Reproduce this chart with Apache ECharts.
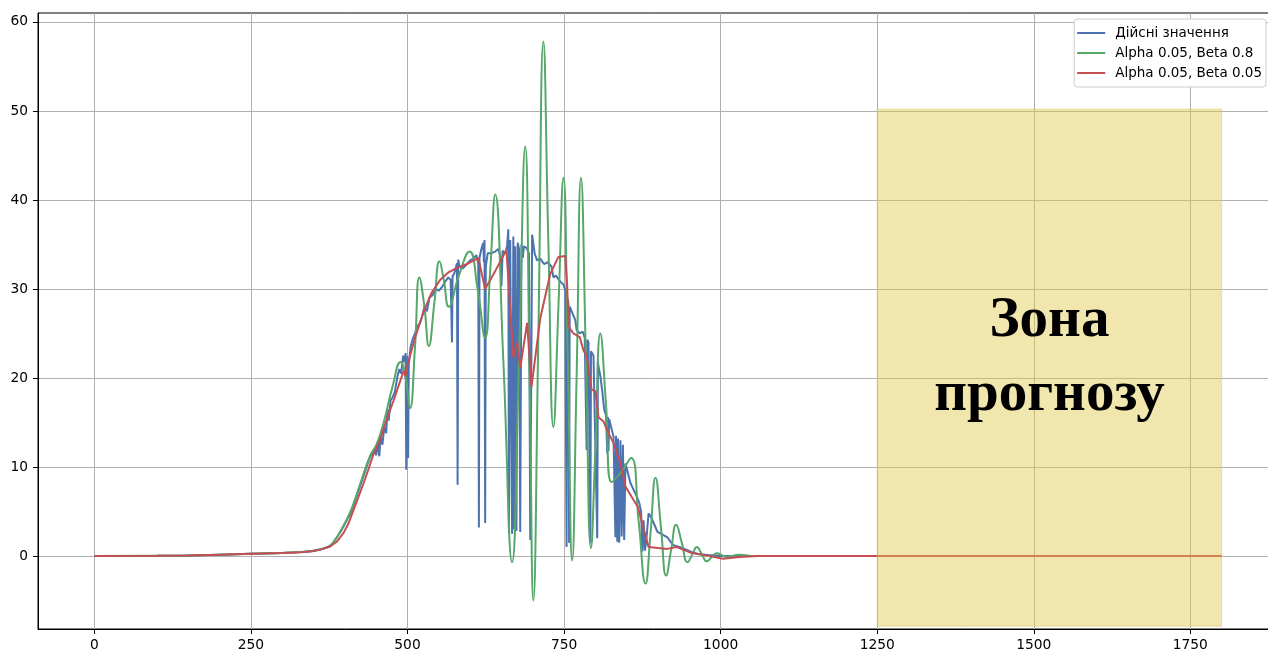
<!DOCTYPE html>
<html>
<head>
<meta charset="utf-8">
<script src="https://cdn.jsdelivr.net/npm/echarts@6/dist/echarts.min.js"></script>
<style>
html,body{margin:0;padding:0;background:#fff;}
#chart{width:1268px;height:651px;}
</style>
</head>
<body>
<div id="chart"></div>
<script>
// ---- data ----
const seriesNames = ['Дійсні значення', 'Alpha 0.05, Beta 0.8', 'Alpha 0.05, Beta 0.05'];

const actualX = [0,100,150,200,250,300,330,345,360,377,393,409,424,440,448,450,452,455,457,460,463,466,468,470,473,476,480,484,487,490,493,495,497,498,499,501,502,505,508,512,515,520,523,527,531,535,540,545,550,555,560,565,569,571,572,575,578,579,580,581,583,588,595,600,605,610,613,614,615,618,621,622,623,624,625,628,633,640,645,648,650,652,656,659,661,662,664,667,669,670,672,674,676,678,680,682,684,686,690,694,696,699,703,707,712,718,724,730,733,737,740,744,749,752,754,755,757,758,759,762,765,768,770,775,780,783,786,787,789,792,793,797,800,803,804,805,808,811,814,817,819,820,821,822,824,829,832,833,835,836,838,840,842,844,846,848,851,856,860,866,870,873,875,877,879,881,885,890,895,899,905,910,915,920,925,935,945,955,965,980,1000,1800];
const actualY = [0,0.02,0.05,0.15,0.25,0.35,0.45,0.5,0.7,1.1,2.7,4.8,7.8,11.1,12,11.3,12.8,11.2,13.5,12.5,14.5,13.8,16.5,15.2,17.5,17.8,18.5,20.2,21,20.5,22.5,21.8,22.8,9.7,22.5,11,21.5,23.5,24.3,25,25.7,26.2,26.8,28,27.5,29,29.3,30,29.8,30.2,30.8,31.3,31,24,31.4,31.8,32,32.9,8,33.3,32.5,32.3,32.8,33.2,33.4,33.8,32.8,3.2,33.5,34.5,35.2,33,35.5,3.7,32.5,34,34,34.2,34.5,33.8,30.3,34.3,34,34.8,36.7,2.6,35.5,2.5,35.9,3,34.8,2.8,35.2,34.5,2.7,35,33.5,34.8,34.6,34,1.8,36.1,34,33.2,33.4,32.8,33,32.5,31.3,31.5,31.5,30.8,30.5,29.9,1.0,29,28.4,1.5,28,27.5,27,26.5,25.4,25,25.2,24.5,11.9,24.3,24,1.5,23,22.5,22.3,2,21.8,21.3,20.2,18.5,16.5,15.8,11.5,15.6,11.8,15.4,15.2,13.4,2.1,13.5,1.6,13.2,1.5,13,2.2,12.5,1.8,10.4,9.6,8.2,7.6,6.7,6,5,0.5,4,0.6,1.5,4.8,4.2,3.4,2.7,2.5,2.3,2.1,1.6,1.2,1.0,0.7,0.4,0.2,0.1,0,0];

const fastX = [0,100,150,200,250,300,330,345,360,377,393,409,424,440,451,462,476,489,497,504,512,519,527,534,543,551,558,566,582,599,612,624,632,640,653,667,678,688,695,701,709,717,725,733,741,749,756,763,770,777,785,793,800,808,817,826,842,857,869,880,888,896,905,913,921,929,938,947,955,962,970,978,986,994,1010,1030,1050,1800];
const fastY = [0,0.02,0.05,0.15,0.25,0.35,0.45,0.55,0.75,1.2,2.8,5,8,11.2,12.6,15,19,21.8,20,16.6,23.5,31.3,28,23.6,28.5,33.1,31,28,31.5,34.2,30,24.5,32,40.6,22,-0.7,22,46,20,-5,25,57.8,35,14.5,28,42.5,22,-0.5,20,42.5,22,0.9,12,25,17,8.3,9.5,11,4,-3.1,2.5,8.8,3,-2.2,0.7,3.5,1.5,-0.7,0.2,1.0,0.2,-0.6,-0.1,0.3,-0.1,0.15,0,0];

const slowX = [0,100,150,200,250,300,330,350,365,377,387,398,406,414,422,430,438,445,456,466,478,489,494,497,500,512,525,538,552,566,580,595,613,624,640,658,669,675,680,691,698,712,728,741,752,755,757,765,775,781,786,794,800,805,813,821,829,840,848,861,868,876,885,900,915,930,951,975,1004,1030,1060,1800];
const slowY = [0,0.02,0.05,0.15,0.25,0.35,0.42,0.55,0.8,1.1,1.6,2.6,3.7,5.2,6.7,8.2,9.8,11.3,13,15.2,17.5,19.8,20.8,20.2,21.5,24.5,27.3,29.5,31,31.9,32.4,32.8,33.5,30,32,34.4,22.3,24,21.1,26.2,19,26.7,31.7,33.6,33.7,30.3,25.8,25,24.6,23.1,22.5,18.7,18.5,15.6,15.1,13.8,12.7,10.4,7.8,6.3,5.5,3.3,1.0,0.9,0.8,1.0,0.4,0.1,-0.3,-0.1,0,0];

const xTicks = [0, 250, 500, 750, 1000, 1250, 1500, 1750];
const yTicks = [0, 10, 20, 30, 40, 50, 60];

const zoneX = [1250, 1800];
const zoneY = [-7.9, 50.2];
const zoneText = ['Зона', 'прогнозу'];

// ---- chart ----
const zip = (xs, ys) => xs.map((x, i) => [x, ys[i]]);
const colors = ['#4C72B0', '#55A868', '#C44E52'];
const tickFont = { color: '#000', fontSize: 13.8, fontFamily: 'DejaVu Sans', formatter: v => String(v) };

const chart = echarts.init(document.getElementById('chart'), null, { renderer: 'canvas' });

const option = {
  animation: false,
  backgroundColor: '#ffffff',
  grid: {
    left: 38, top: 13, width: 1240, height: 616,
    outerBoundsMode: 'none', containLabel: false,
    show: true, borderColor: '#000', borderWidth: 1, backgroundColor: 'transparent'
  },
  legend: {
    data: seriesNames,
    orient: 'vertical',
    right: 2, top: 19,
    padding: [7, 4, 7, 3],
    itemGap: 6,
    itemWidth: 28, itemHeight: 2,
    icon: 'rect',
    backgroundColor: '#ffffff',
    borderColor: '#cccccc', borderWidth: 1, borderRadius: 3,
    textStyle: { color: '#000', fontSize: 13.5, fontFamily: 'DejaVu Sans', lineHeight: 14, padding: [0, 0, 0, 5] }
  },
  xAxis: {
    type: 'value', min: -90, max: 1890,
    axisLine: { show: true, onZero: false, lineStyle: { color: '#000', width: 1 } },
    axisTick: { show: true, length: 5, lineStyle: { color: '#000' }, customValues: xTicks },
    axisLabel: Object.assign({ customValues: xTicks, margin: 9 }, tickFont),
    splitLine: { show: true, lineStyle: { color: '#b0b0b0', width: 1 } }
  },
  yAxis: {
    type: 'value', min: -8.2, max: 61.0,
    axisLine: { show: true, onZero: false, lineStyle: { color: '#000', width: 1 } },
    axisTick: { show: true, length: 5, lineStyle: { color: '#000' }, customValues: yTicks },
    axisLabel: Object.assign({ customValues: yTicks, margin: 10 }, tickFont),
    splitLine: { show: true, lineStyle: { color: '#b0b0b0', width: 1 } }
  },
  series: [
    {
      name: seriesNames[0], type: 'line', data: zip(actualX, actualY),
      symbol: 'none', smooth: false, z: 2,
      lineStyle: { color: colors[0], width: 2 }, itemStyle: { color: colors[0] }
    },
    {
      name: seriesNames[1], type: 'line', data: zip(fastX, fastY),
      symbol: 'none', smooth: 0.5, z: 3,
      lineStyle: { color: colors[1], width: 2 }, itemStyle: { color: colors[1] }
    },
    {
      name: seriesNames[2], type: 'line', data: zip(slowX, slowY),
      symbol: 'none', smooth: false, z: 4,
      lineStyle: { color: colors[2], width: 2 }, itemStyle: { color: colors[2] }
    },
    {
      name: 'zone', type: 'custom', z: 10, silent: true,
      encode: { x: [0, 2], y: [1, 3] },
      data: [[zoneX[0], zoneY[0], zoneX[1], zoneY[1]]],
      renderItem: function (params, api) {
        const p0 = api.coord([api.value(0), api.value(3)]);
        const p1 = api.coord([api.value(2), api.value(1)]);
        const cx = (p0[0] + p1[0]) / 2;
        const cy = (p0[1] + p1[1]) / 2;
        return {
          type: 'group',
          children: [
            {
              type: 'rect',
              shape: { x: p0[0], y: p0[1], width: p1[0] - p0[0], height: p1[1] - p0[1] },
              style: { fill: 'rgba(221,198,71,0.44)', stroke: 'rgba(221,198,71,0.44)', lineWidth: 1 }
            },
            {
              type: 'text',
              style: {
                text: zoneText.join('\n'),
                x: cx, y: cy - 9,
                align: 'center', verticalAlign: 'middle',
                font: 'bold 57px "Liberation Serif", "Times New Roman", serif',
                lineHeight: 74,
                fill: '#000'
              }
            }
          ]
        };
      }
    }
  ]
};

chart.setOption(option);
</script>
</body>
</html>
